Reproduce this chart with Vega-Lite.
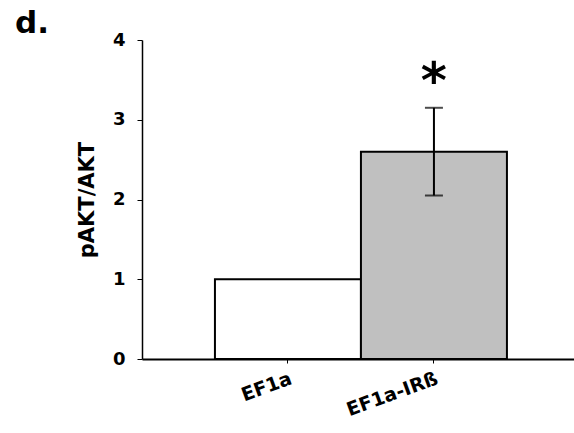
{
  "$schema": "https://vega.github.io/schema/vega-lite/v6.json",
  "autosize": {"type": "none"},
  "padding": {"left": 142, "top": 40, "right": 0, "bottom": 74},
  "width": 432,
  "height": 319,
  "background": "white",
  "title": {"text": "d.", "anchor": "start", "frame": "group", "dx": -127, "dy": 33, "offset": 0, "baseline": "alphabetic", "fontSize": 31, "fontWeight": "bold", "font": "DejaVu Sans", "color": "black"},
  "config": {"view": {"stroke": null}, "font": "DejaVu Sans"},
  "data": {"values": [
    {"group": "EF1a", "value": 1.0},
    {"group": "EF1a-IRß", "value": 2.6, "lo": 2.05, "hi": 3.15, "sig": "*"}
  ]},
  "encoding": {
    "x": {"field": "group", "type": "nominal", "sort": null,
      "scale": {"paddingInner": 0, "paddingOuter": 0.4795, "align": 0.521},
      "axis": {"title": null, "labelAngle": -20, "labelAlign": "right", "labelBaseline": "top", "labelFontSize": 19, "labelFontWeight": "bold", "labelColor": "black", "labelPadding": 6, "tickSize": 4, "tickColor": "black", "tickWidth": 1, "domainColor": "black", "domainWidth": 2}}
  },
  "layer": [
    {"mark": {"type": "bar", "stroke": "black", "strokeWidth": 2},
     "encoding": {
       "y": {"field": "value", "type": "quantitative", "scale": {"domain": [0, 4], "nice": false},
         "axis": {"title": "pAKT/AKT", "titleFontSize": 21, "titleFontWeight": "bold", "titleColor": "black", "titlePadding": 15, "values": [0, 1, 2, 3, 4], "format": "d", "grid": false, "labelFontSize": 18, "labelFontWeight": "bold", "labelColor": "black", "labelPadding": 12, "tickSize": 5, "tickColor": "black", "tickWidth": 1, "domainColor": "black", "domainWidth": 1.5}},
       "fill": {"field": "group", "type": "nominal", "scale": {"domain": ["EF1a", "EF1a-IRß"], "range": ["#ffffff", "#c0c0c0"]}, "legend": null}
     }},
    {"mark": {"type": "rule", "color": "black", "strokeWidth": 2},
     "encoding": {"y": {"field": "lo", "type": "quantitative"}, "y2": {"field": "hi"}}},
    {"mark": {"type": "tick", "color": "black", "thickness": 2, "size": 18, "orient": "horizontal"},
     "encoding": {"y": {"field": "lo", "type": "quantitative"}}},
    {"mark": {"type": "tick", "color": "black", "thickness": 2, "size": 18, "orient": "horizontal"},
     "encoding": {"y": {"field": "hi", "type": "quantitative"}}},
    {"mark": {"type": "text", "fontSize": 50, "fontWeight": "bold", "baseline": "alphabetic", "dy": -10, "color": "black"},
     "encoding": {"y": {"field": "hi", "type": "quantitative"}, "text": {"field": "sig"}}}
  ]
}
